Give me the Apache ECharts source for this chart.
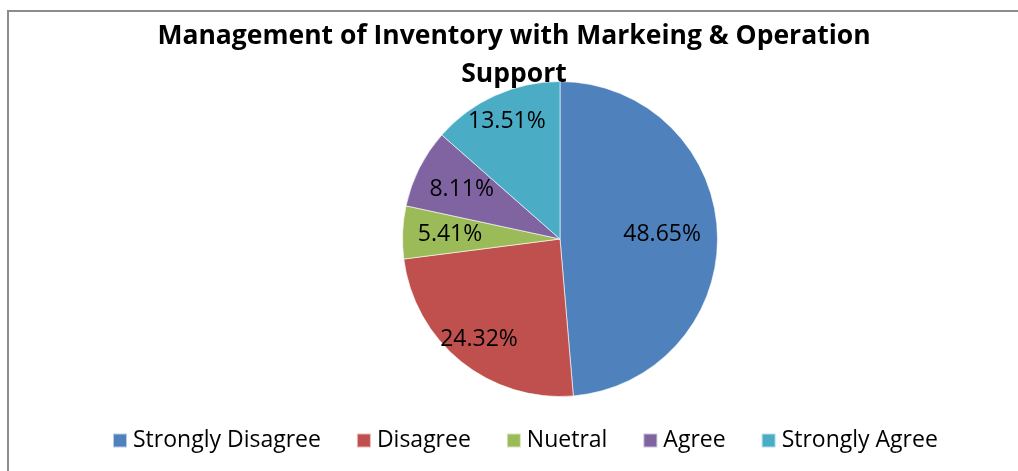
<!DOCTYPE html>
<html>
<head>
<meta charset="utf-8">
<script src="https://cdn.jsdelivr.net/npm/echarts@6/dist/echarts.min.js"></script>
<style>
  html, body { margin: 0; padding: 0; background: #ffffff; }
  #chart { width: 1018px; height: 471px; }
</style>
</head>
<body>
<div id="chart"></div>
<script>
// Survey responses (share of respondents, %)
const categories = ['Strongly Disagree', 'Disagree', 'Nuetral', 'Agree', 'Strongly Agree'];
const shares = [48.65, 24.32, 5.41, 8.11, 13.51];
const palette = ['#4F81BD', '#C0504D', '#9BBB59', '#8064A2', '#4BACC6'];

const FONT = '"Open Sans", "Noto Sans", sans-serif';
const CENTER = [560, 239];
const R = 157.5;

// how far out (fraction of radius) each slice's percentage label sits
const labelDepth = [0.63, 0.80, 0.68, 0.68, 0.80];

const pieData = categories.map((name, i) => ({
  name: name,
  value: shares[i],
  itemStyle: { color: palette[i] }
}));

// Transparent ring carrying the label of one slice; the label sits at the ring's mid-radius.
function labelRing(idx) {
  const inner = R * (2 * labelDepth[idx] - 1);
  return {
    type: 'pie',
    center: CENTER,
    radius: [inner, R],
    startAngle: 90,
    clockwise: true,
    silent: true,
    itemStyle: { color: 'rgba(0,0,0,0)', borderWidth: 0 },
    label: {
      show: true,
      position: 'inside',
      fontFamily: FONT,
      fontSize: 23,
      color: '#000000',
      formatter: p => p.value.toFixed(2) + '%'
    },
    labelLine: { show: false },
    emphasis: { disabled: true },
    data: categories.map((name, i) => ({
      name: name,
      value: shares[i],
      label: { show: i === idx }
    }))
  };
}

const chart = echarts.init(document.getElementById('chart'), null, { renderer: 'canvas' });

chart.setOption({
  backgroundColor: '#ffffff',
  animation: false,
  color: palette,
  title: {
    text: 'Management of Inventory with Markeing & Operation\nSupport',
    left: 509,
    textAlign: 'center',
    top: 12,
    textStyle: {
      fontFamily: FONT,
      fontWeight: 'bold',
      fontSize: 26.5,
      lineHeight: 38,
      color: '#000000'
    }
  },
  legend: {
    bottom: 14,
    left: 107,
    itemWidth: 14,
    itemHeight: 14,
    itemGap: 35,
    icon: 'rect',
    selectedMode: false,
    textStyle: {
      fontFamily: FONT,
      fontSize: 23,
      color: '#000000',
      padding: [0, 0, 0, 1]
    },
    data: categories
  },
  graphic: [{
    type: 'rect',
    silent: true,
    z: 100,
    shape: { x: 8, y: 11, width: 1040, height: 500 },
    style: { fill: null, stroke: '#8c8c8c', lineWidth: 2 }
  }],
  series: [
    {
      // the pie itself
      type: 'pie',
      center: CENTER,
      radius: [0, R],
      startAngle: 90,
      clockwise: true,
      label: { show: false },
      labelLine: { show: false },
      itemStyle: { borderColor: 'rgba(255,255,255,0.6)', borderWidth: 1 },
      emphasis: { disabled: true },
      data: pieData
    }
  ].concat(categories.map((_, i) => labelRing(i)))
});
</script>
</body>
</html>
